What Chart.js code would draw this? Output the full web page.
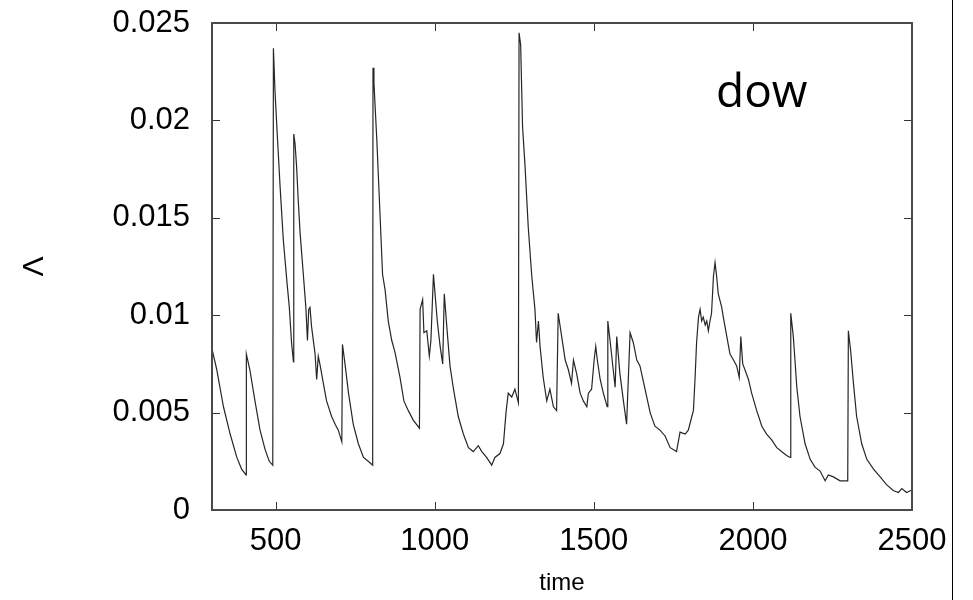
<!DOCTYPE html>
<html>
<head>
<meta charset="utf-8">
<script src="https://cdn.jsdelivr.net/npm/chart.js@4/dist/chart.umd.min.js"></script>
<style>
  html, body { margin: 0; padding: 0; background: #fff; }
  #wrap { width: 973px; height: 600px; position: relative; }
</style>
</head>
<body>
<div id="wrap"><canvas id="c" width="973" height="600"></canvas></div>
<script>
// ---- data ----
const times = [
  300, 301, 315, 336, 357, 378, 393, 407, 408, 419, 435, 451, 467, 480, 491,
  493, 498, 505, 514, 524, 535, 543, 550, 556, 557, 561, 566, 571, 577, 587,
  595, 600, 604, 608, 613, 624, 629, 634, 639, 650, 660, 676, 687, 697, 708,
  710, 718, 729, 744, 760, 776, 791, 805, 806, 809, 818, 828, 836, 844, 854,
  865, 875, 891, 903, 917, 933, 952, 954, 962, 966, 975, 983, 988, 996, 1001,
  1008, 1017, 1025, 1030, 1038, 1048, 1059, 1074, 1090, 1106, 1121, 1137, 1148, 1163, 1179,
  1189, 1205, 1216, 1224, 1231, 1242, 1252, 1263, 1265, 1270, 1276, 1284, 1294, 1305, 1315,
  1320, 1326, 1331, 1341, 1352, 1362, 1373, 1383, 1388, 1399, 1410, 1420, 1430, 1436, 1446,
  1457, 1467, 1478, 1483, 1493, 1501, 1506, 1511, 1520, 1530, 1542, 1544, 1551, 1561, 1567,
  1572, 1582, 1593, 1603, 1614, 1624, 1635, 1645, 1661, 1677, 1692, 1708, 1724, 1740, 1760,
  1771, 1787, 1797, 1808, 1813, 1818, 1823, 1829, 1834, 1839, 1844, 1850, 1855, 1860, 1865,
  1870, 1876, 1881, 1886, 1891, 1902, 1907, 1918, 1928, 1939, 1949, 1957, 1962, 1968, 1975,
  1986, 1996, 2012, 2028, 2043, 2059, 2075, 2090, 2106, 2117, 2119, 2127, 2138, 2148, 2164,
  2180, 2195, 2211, 2227, 2237, 2253, 2274, 2298, 2300, 2307, 2316, 2326, 2342, 2358, 2379,
  2400, 2420, 2441, 2457, 2468, 2483, 2496, 2500
];
const lambdaValues = [
  0.0063, 0.0082, 0.0072, 0.0053, 0.0039, 0.0027, 0.0021, 0.0018, 0.0080, 0.0072, 0.0056, 0.0041, 0.0031, 0.0025, 0.0023,
  0.0237, 0.0215, 0.0193, 0.0166, 0.0139, 0.0118, 0.0104, 0.0086, 0.0076, 0.0193, 0.0188, 0.0176, 0.0159, 0.0142, 0.0121,
  0.0104, 0.0087, 0.0103, 0.0104, 0.0094, 0.0080, 0.0067, 0.0079, 0.0075, 0.0065, 0.0056, 0.0048, 0.0044, 0.0041, 0.0035,
  0.0085, 0.0075, 0.0060, 0.0044, 0.0034, 0.0027, 0.0025, 0.0023, 0.0227, 0.0219, 0.0190, 0.0152, 0.0121, 0.0113, 0.0097,
  0.0087, 0.0081, 0.0068, 0.0056, 0.0051, 0.0046, 0.0042, 0.0103, 0.0108, 0.0091, 0.0092, 0.0079, 0.0087, 0.0121, 0.0111,
  0.0097, 0.0084, 0.0075, 0.0111, 0.0094, 0.0074, 0.0062, 0.0048, 0.0039, 0.0032, 0.0030, 0.0033, 0.0030, 0.0027, 0.0023,
  0.0027, 0.0029, 0.0034, 0.0050, 0.0060, 0.0058, 0.0062, 0.0055, 0.0245, 0.0239, 0.0197, 0.0176, 0.0145, 0.0120, 0.0103,
  0.0086, 0.0097, 0.0084, 0.0068, 0.0056, 0.0062, 0.0053, 0.0051, 0.0101, 0.0089, 0.0077, 0.0072, 0.0065, 0.0077, 0.0070,
  0.0060, 0.0056, 0.0053, 0.0060, 0.0062, 0.0077, 0.0084, 0.0077, 0.0067, 0.0060, 0.0053, 0.0097, 0.0087, 0.0072, 0.0063,
  0.0089, 0.0070, 0.0056, 0.0044, 0.0091, 0.0086, 0.0077, 0.0074, 0.0062, 0.0050, 0.0043, 0.0041, 0.0038, 0.0032, 0.0030,
  0.0040, 0.0039, 0.0041, 0.0048, 0.0051, 0.0067, 0.0086, 0.0099, 0.0103, 0.0097, 0.0099, 0.0095, 0.0097, 0.0092, 0.0097,
  0.0101, 0.0120, 0.0127, 0.0120, 0.0111, 0.0104, 0.0099, 0.0089, 0.0080, 0.0077, 0.0074, 0.0068, 0.0089, 0.0075, 0.0072,
  0.0067, 0.0060, 0.0051, 0.0043, 0.0039, 0.0036, 0.0032, 0.0030, 0.0028, 0.0027, 0.0101, 0.0089, 0.0063, 0.0048, 0.0034,
  0.0026, 0.0022, 0.0020, 0.0015, 0.0018, 0.0017, 0.0015, 0.0015, 0.0092, 0.0082, 0.0065, 0.0048, 0.0034, 0.0026, 0.0021,
  0.0017, 0.0013, 0.0010, 0.0009, 0.0011, 0.0009, 0.0010, 0.0010
];
const xTicks = [500, 1000, 1500, 2000, 2500];
const yTicks = [0, 0.005, 0.01, 0.015, 0.02, 0.025];
const yTickLabels = ['0', '0.005', '0.01', '0.015', '0.02', '0.025'];
const xTitle = 'time';
const yTitle = 'Λ';
const seriesLabel = 'dow';

const points = times.map((t, i) => ({ x: t, y: lambdaValues[i] }));

const framePlugin = {
  id: 'frame',
  afterDatasetsDraw(chart) {
    const { ctx, chartArea: a, scales } = chart;
    ctx.save();
    // inward tick marks on all four sides
    ctx.strokeStyle = '#333';
    ctx.lineWidth = 1;
    const tl = 8;
    ctx.beginPath();
    xTicks.forEach(v => {
      const px = Math.round(scales.x.getPixelForValue(v)) + 0.5;
      ctx.moveTo(px, a.bottom); ctx.lineTo(px, a.bottom - tl);
      ctx.moveTo(px, a.top); ctx.lineTo(px, a.top + tl);
    });
    yTicks.forEach(v => {
      const py = Math.round(scales.y.getPixelForValue(v)) + 0.5;
      ctx.moveTo(a.left, py); ctx.lineTo(a.left + tl, py);
      ctx.moveTo(a.right, py); ctx.lineTo(a.right - tl, py);
    });
    ctx.stroke();
    // frame
    ctx.strokeStyle = '#4a4a4a';
    ctx.lineWidth = 2;
    ctx.strokeRect(a.left, a.top, a.right - a.left, a.bottom - a.top);
    // series label
    ctx.fillStyle = '#000';
    ctx.font = '46px "Open Sans"';
    ctx.textBaseline = 'alphabetic';
    ctx.textAlign = 'left';
    ctx.fillText(seriesLabel, 716, 107);
    // thin vertical rule at the right of the figure
    ctx.strokeStyle = '#000';
    ctx.lineWidth = 1;
    ctx.beginPath();
    ctx.moveTo(952.5, 0); ctx.lineTo(952.5, 600);
    ctx.stroke();
    ctx.restore();
  }
};

new Chart(document.getElementById('c'), {
  type: 'line',
  data: {
    datasets: [{
      label: seriesLabel,
      data: points,
      borderColor: '#262626',
      borderWidth: 1.2,
      pointRadius: 0,
      tension: 0,
      fill: false
    }]
  },
  options: {
    responsive: false,
    animation: false,
    devicePixelRatio: 1,
    layout: { padding: { left: 0, right: 61, top: 23, bottom: 0 } },
    plugins: { legend: { display: false }, tooltip: { enabled: false } },
    scales: {
      x: {
        type: 'linear',
        min: 300, max: 2500,
        afterBuildTicks: s => { s.ticks = xTicks.map(v => ({ value: v })); },
        afterFit: s => { s.height = 90; s.paddingLeft = 0; s.paddingRight = 0; },
        grid: { display: false, drawTicks: false },
        border: { display: false },
        ticks: {
          color: '#000',
          padding: 13,
          maxRotation: 0,
          autoSkip: false,
          font: { family: '"Liberation Sans", Arial, sans-serif', size: 31 },
          callback: v => String(v)
        },
        title: {
          display: true, text: xTitle, color: '#000',
          font: { family: '"Liberation Sans", Arial, sans-serif', size: 24 },
          padding: { top: 0, bottom: 2 }
        }
      },
      y: {
        type: 'linear',
        min: 0, max: 0.025,
        afterBuildTicks: s => { s.ticks = yTicks.map(v => ({ value: v })); },
        afterFit: s => { s.width = 212; s.paddingTop = 0; s.paddingBottom = 0; },
        grid: { display: false, drawTicks: false },
        border: { display: false },
        ticks: {
          color: '#000',
          padding: 22,
          autoSkip: false,
          font: { family: '"Liberation Sans", Arial, sans-serif', size: 31 },
          callback: (v) => { const i = yTicks.indexOf(v); return i >= 0 ? yTickLabels[i] : ''; }
        },
        title: {
          display: true, text: yTitle, color: '#000',
          font: { family: '"Liberation Sans", Arial, sans-serif', size: 30 },
          padding: { top: 17, bottom: 0 }
        }
      }
    }
  },
  plugins: [framePlugin]
});
</script>
</body>
</html>
